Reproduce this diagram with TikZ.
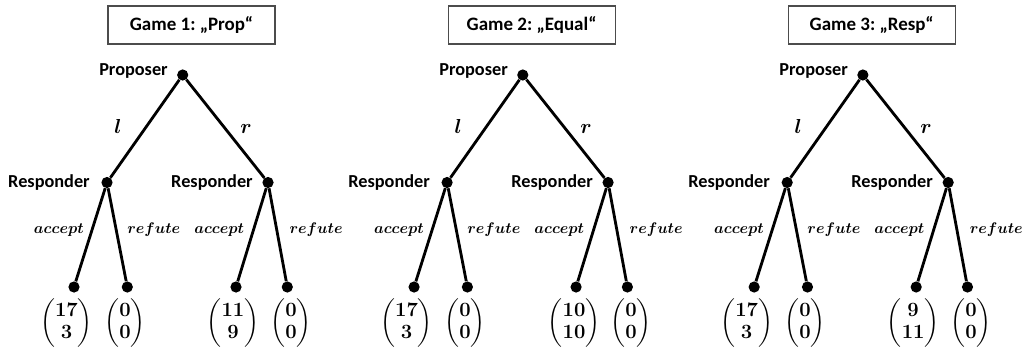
\documentclass[tikz,border=0pt]{standalone}
\usepackage{amsmath}
\usepackage{bm}
\usepackage[no-math]{fontspec}
\newfontfamily\carlito{Carlito}

\begin{document}
\begin{tikzpicture}[x=0.025cm,y=-0.025cm,
  dot/.style={shape=circle,fill=black,inner sep=0pt,minimum size=0.28cm},
  who/.style={font=\carlito\bfseries\fontsize{13}{15}\selectfont,inner sep=0pt},
  move/.style={font=\fontsize{10.8}{13}\selectfont,inner sep=0pt},
  side/.style={font=\fontsize{13.5}{15}\selectfont,inner sep=0pt},
  pay/.style={font=\fontsize{13.5}{16}\selectfont,inner sep=0pt},
  gamebox/.style={draw=black!70,line width=0.8pt,font=\carlito\bfseries\fontsize{13.5}{15}\selectfont\frenchspacing,
    minimum width=4.175cm,minimum height=0.95cm},
  every edge/.style={draw,line width=2pt}]
\useasboundingbox (0,0) rectangle (1026,348);

% Game 1
\node[gamebox] (title1) at (191.5,25) {Game 1: „Prop“\hspace{0.3cm}};
\node[dot] (prop1) at (182.7,75) {};
\node[dot] (resl1) at (107,182.5) {};
\node[dot] (resr1) at (268,182.5) {};
\node[dot] (ta1) at (74,287) {};
\node[dot] (tb1) at (127.3,287) {};
\node[dot] (tc1) at (236,287) {};
\node[dot] (td1) at (287.3,287) {};

\node[who,anchor=base east] (wp1) at (168,76) {Proposer};
\node[who,anchor=base east] (wl1) at (90,187) {Responder};
\node[who,anchor=base east] (wr1) at (253,187) {Responder};
\node[side,anchor=base east] (l1) at (122,133) {$\bm{l}$};
\node[side,anchor=base west] (r1) at (240,133) {$\bm{r}$};
\node[move,anchor=base east] (ac1) at (84,233) {$\bm{accept}$};
\node[move,anchor=base west] (re1) at (127,233) {$\bm{refute}$};
\node[move,anchor=base east] (ad1) at (244.3,233) {$\bm{accept}$};
\node[move,anchor=base west] (rf1) at (289.3,233) {$\bm{refute}$};

\node[pay] (pa1) at (66.5,323) {$\begin{pmatrix}\mathbf{17}\\ \mathbf{3}\end{pmatrix}$};
\node[pay] (pb1) at (125,323) {$\begin{pmatrix}\mathbf{0}\\ \mathbf{0}\end{pmatrix}$};
\node[pay] (pc1) at (233,323) {$\begin{pmatrix}\mathbf{11}\\ \mathbf{9}\end{pmatrix}$};
\node[pay] (pd1) at (291,323) {$\begin{pmatrix}\mathbf{0}\\ \mathbf{0}\end{pmatrix}$};

\path (prop1) edge (resl1);
\path (prop1) edge (resr1);
\path (resl1) edge (ta1);
\path (resl1) edge (tb1);
\path (resr1) edge (tc1);
\path (resr1) edge (td1);

% Game 2
\begin{scope}[xshift=8.5cm]
\node[gamebox] (title2) at (191.5,25) {Game 2: „Equal“\hspace{0.3cm}};
\node[dot] (prop2) at (182.7,75) {};
\node[dot] (resl2) at (107,182.5) {};
\node[dot] (resr2) at (268,182.5) {};
\node[dot] (ta2) at (74,287) {};
\node[dot] (tb2) at (127.3,287) {};
\node[dot] (tc2) at (236,287) {};
\node[dot] (td2) at (287.3,287) {};

\node[who,anchor=base east] (wp2) at (168,76) {Proposer};
\node[who,anchor=base east] (wl2) at (90,187) {Responder};
\node[who,anchor=base east] (wr2) at (253,187) {Responder};
\node[side,anchor=base east] (l2) at (122,133) {$\bm{l}$};
\node[side,anchor=base west] (r2) at (240,133) {$\bm{r}$};
\node[move,anchor=base east] (ac2) at (84,233) {$\bm{accept}$};
\node[move,anchor=base west] (re2) at (127,233) {$\bm{refute}$};
\node[move,anchor=base east] (ad2) at (244.3,233) {$\bm{accept}$};
\node[move,anchor=base west] (rf2) at (289.3,233) {$\bm{refute}$};

\node[pay] (pa2) at (66.5,323) {$\begin{pmatrix}\mathbf{17}\\ \mathbf{3}\end{pmatrix}$};
\node[pay] (pb2) at (125,323) {$\begin{pmatrix}\mathbf{0}\\ \mathbf{0}\end{pmatrix}$};
\node[pay] (pc2) at (234,323) {$\begin{pmatrix}\mathbf{10}\\ \mathbf{10}\end{pmatrix}$};
\node[pay] (pd2) at (291,323) {$\begin{pmatrix}\mathbf{0}\\ \mathbf{0}\end{pmatrix}$};

\path (prop2) edge (resl2);
\path (prop2) edge (resr2);
\path (resl2) edge (ta2);
\path (resl2) edge (tb2);
\path (resr2) edge (tc2);
\path (resr2) edge (td2);
\end{scope}

% Game 3
\begin{scope}[xshift=17cm]
\node[gamebox] (title3) at (191.5,25) {Game 3: „Resp“\hspace{0.3cm}};
\node[dot] (prop3) at (182.7,75) {};
\node[dot] (resl3) at (107,182.5) {};
\node[dot] (resr3) at (268,182.5) {};
\node[dot] (ta3) at (74,287) {};
\node[dot] (tb3) at (127.3,287) {};
\node[dot] (tc3) at (236,287) {};
\node[dot] (td3) at (287.3,287) {};

\node[who,anchor=base east] (wp3) at (168,76) {Proposer};
\node[who,anchor=base east] (wl3) at (90,187) {Responder};
\node[who,anchor=base east] (wr3) at (253,187) {Responder};
\node[side,anchor=base east] (l3) at (122,133) {$\bm{l}$};
\node[side,anchor=base west] (r3) at (240,133) {$\bm{r}$};
\node[move,anchor=base east] (ac3) at (84,233) {$\bm{accept}$};
\node[move,anchor=base west] (re3) at (127,233) {$\bm{refute}$};
\node[move,anchor=base east] (ad3) at (244.3,233) {$\bm{accept}$};
\node[move,anchor=base west] (rf3) at (289.3,233) {$\bm{refute}$};

\node[pay] (pa3) at (66.5,323) {$\begin{pmatrix}\mathbf{17}\\ \mathbf{3}\end{pmatrix}$};
\node[pay] (pb3) at (125,323) {$\begin{pmatrix}\mathbf{0}\\ \mathbf{0}\end{pmatrix}$};
\node[pay] (pc3) at (233,323) {$\begin{pmatrix}\mathbf{9}\\ \mathbf{11}\end{pmatrix}$};
\node[pay] (pd3) at (291,323) {$\begin{pmatrix}\mathbf{0}\\ \mathbf{0}\end{pmatrix}$};

\path (prop3) edge (resl3);
\path (prop3) edge (resr3);
\path (resl3) edge (ta3);
\path (resl3) edge (tb3);
\path (resr3) edge (tc3);
\path (resr3) edge (td3);
\end{scope}
\end{tikzpicture}
\end{document}
